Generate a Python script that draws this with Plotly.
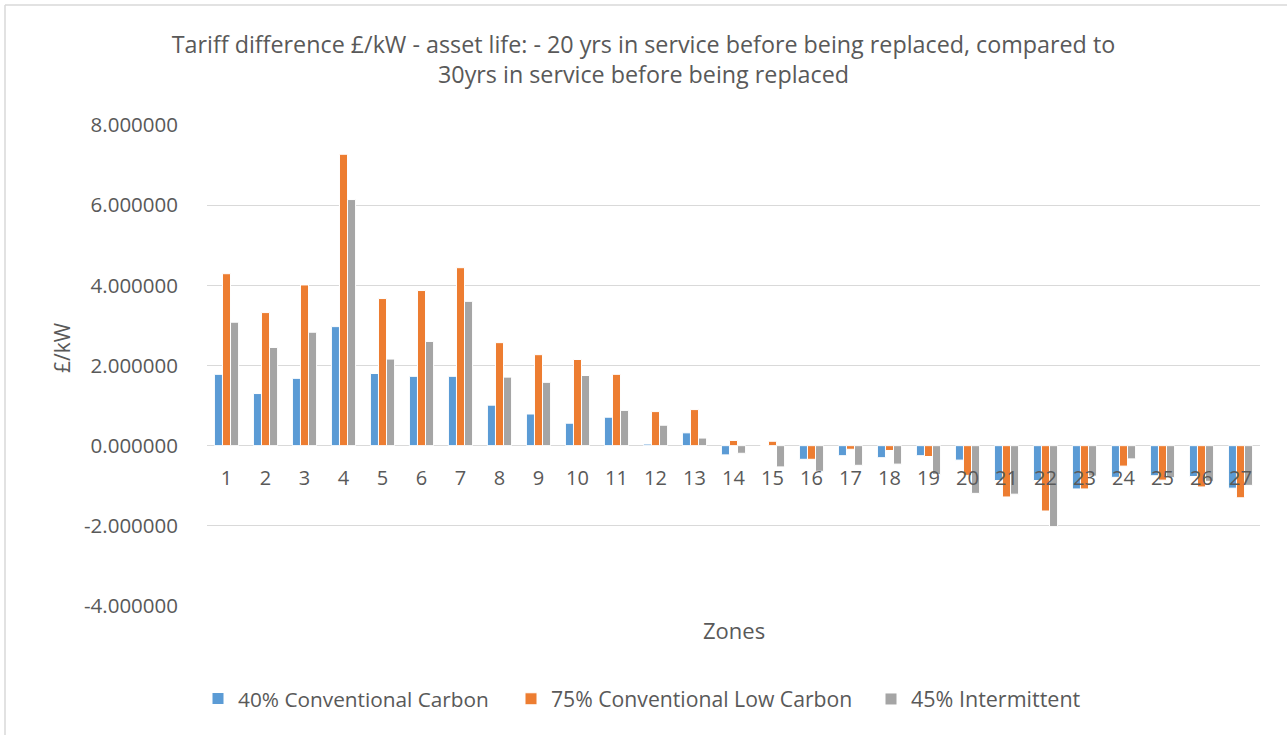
import plotly.graph_objects as go

zones = [str(i) for i in range(1, 28)]
conv_carbon = [1.78, 1.30, 1.68, 2.97, 1.80, 1.73, 1.73, 1.01, 0.79, 0.56, 0.71, 0.04, 0.32, -0.23, 0.0,
               -0.34, -0.25, -0.30, -0.25, -0.36, -0.87, -0.87, -1.08, -0.79, -0.75, -0.77, -1.06]
conv_low_carbon = [4.29, 3.32, 4.01, 7.27, 3.67, 3.87, 4.44, 2.57, 2.27, 2.15, 1.78, 0.85, 0.90, 0.13, 0.11,
                   -0.34, -0.09, -0.12, -0.27, -0.74, -1.28, -1.63, -1.08, -0.51, -0.86, -1.03, -1.30]
intermittent = [3.08, 2.45, 2.83, 6.14, 2.16, 2.60, 3.60, 1.71, 1.58, 1.75, 0.88, 0.51, 0.19, -0.19, -0.53,
                -0.64, -0.49, -0.46, -0.72, -1.19, -1.21, -2.02, -0.76, -0.33, -0.80, -0.89, -0.99]
series_names = ["40% Conventional Carbon", "75% Conventional Low Carbon", "45% Intermittent"]
series_colors = ["#5B9BD5", "#ED7D31", "#A5A5A5"]
y_ticks = [-4, -2, 0, 2, 4, 6, 8]
y_tick_text = [f"{v:.6f}" for v in y_ticks]

FONT = "Open Sans"
TXT = "#595959"

W, H = 1287, 735
L, R, T, B = 207, 27, 125, 129
ph = H - T - B
pw = W - L - R

def px_x(px):
    return (px - L) / pw

def px_y(py):
    return (H - B - py) / ph

legend_ids = ["legend", "legend2", "legend3"]
legend_text_x = [238, 551, 911]
legend_font_sizes = [20.8, 21.2, 21.5]

fig = go.Figure()
for name, vals, col, lg in zip(series_names, [conv_carbon, conv_low_carbon, intermittent],
                               series_colors, legend_ids):
    fig.add_trace(go.Bar(x=zones, y=vals, name=name, legend=lg,
                         marker=dict(color=col, line=dict(color="white", width=1))))

legend_cfg = {}
for lg, tx, fs in zip(legend_ids, legend_text_x, legend_font_sizes):
    legend_cfg[lg] = dict(orientation="h", x=px_x(tx - 40), xanchor="left",
                          y=px_y(699), yanchor="middle", bgcolor="rgba(0,0,0,0)",
                          font=dict(size=fs, color=TXT, family=FONT))

fig.update_layout(
    width=W, height=H,
    margin=dict(l=L, r=R, t=T, b=B),
    paper_bgcolor="white", plot_bgcolor="white",
    font=dict(family=FONT, color=TXT, size=20),
    barmode="group", bargap=0.38, bargroupgap=0.0,
    title=dict(text="Tariff difference £/kW - asset life: - 20 yrs in service before being replaced, compared to<br>30yrs in service before being replaced",
               x=0.5, xref="container", xanchor="center",
               y=1 - 53 / H, yref="container", yanchor="middle",
               font=dict(family=FONT, size=23.3, color=TXT)),
    xaxis=dict(type="category", anchor="free", position=4 / 12,
               showgrid=False, showline=False, zeroline=False,
               ticks="", ticklabelstandoff=18,
               tickfont=dict(size=20, color=TXT)),
    yaxis=dict(range=[-4, 8], tickvals=y_ticks, ticktext=y_tick_text,
               showgrid=True, gridcolor="#D9D9D9", gridwidth=1,
               zeroline=True, zerolinecolor="#D9D9D9", zerolinewidth=1,
               showline=False, ticks="", ticklabelstandoff=28,
               tickfont=dict(size=20.5, color=TXT)),
    showlegend=True,
    **legend_cfg,
)

fig.add_annotation(text="Zones", xref="paper", yref="paper",
                   x=0.5, y=px_y(630), xanchor="center", yanchor="middle",
                   showarrow=False, font=dict(size=22, color=TXT))
fig.add_annotation(text="£/kW", xref="paper", yref="paper", textangle=-90,
                   x=px_x(62), y=px_y(348), xanchor="center", yanchor="middle",
                   showarrow=False, font=dict(size=21, color=TXT))

# chart-area border (left and top edges)
fig.add_shape(type="line", xref="paper", yref="paper",
              x0=px_x(5), x1=px_x(5), y0=px_y(5), y1=px_y(745),
              line=dict(color="#D9D9D9", width=1.5))
fig.add_shape(type="line", xref="paper", yref="paper",
              x0=px_x(5), x1=px_x(1300), y0=px_y(5), y1=px_y(5),
              line=dict(color="#D9D9D9", width=1.5))

fig.write_html("out.html", config={"displayModeBar": False},
               post_script="document.body.style.margin='0';")
